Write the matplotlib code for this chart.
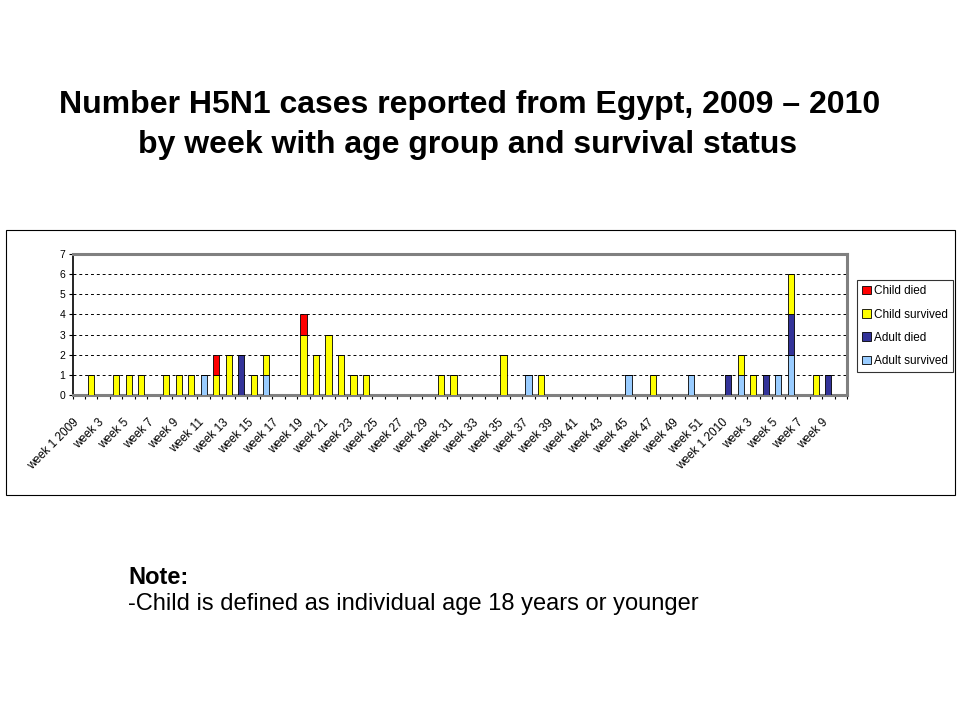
import matplotlib
matplotlib.use("Agg")
import matplotlib.pyplot as plt
import matplotlib.patches as mpatches
import matplotlib.transforms as mtransforms
import numpy as np

plt.rcParams["font.family"] = ["Liberation Sans", "DejaVu Sans"]

# weeks: 52 weeks of 2009, then weeks 1-10 of 2010
weeks_2009 = ["week %d" % w for w in range(1, 53)]
weeks_2010 = ["week %d" % w for w in range(1, 11)]
weeks_2009[0] = "week 1 2009"
weeks_2010[0] = "week 1 2010"
week_labels = weeks_2009 + weeks_2010

# cases per week (2009 rows of 10, then 2010)
adult_survived = [0, 0, 0, 0, 0, 0, 0, 0, 0, 0,
                  1, 0, 0, 0, 0, 1, 0, 0, 0, 0,
                  0, 0, 0, 0, 0, 0, 0, 0, 0, 0,
                  0, 0, 0, 0, 0, 0, 1, 0, 0, 0,
                  0, 0, 0, 0, 1, 0, 0, 0, 0, 1,
                  0, 0,
                  0, 1, 0, 0, 1, 2, 0, 0, 0, 0]
adult_died = [0, 0, 0, 0, 0, 0, 0, 0, 0, 0,
              0, 0, 0, 2, 0, 0, 0, 0, 0, 0,
              0, 0, 0, 0, 0, 0, 0, 0, 0, 0,
              0, 0, 0, 0, 0, 0, 0, 0, 0, 0,
              0, 0, 0, 0, 0, 0, 0, 0, 0, 0,
              0, 0,
              1, 0, 0, 1, 0, 2, 0, 0, 1, 0]
child_survived = [0, 1, 0, 1, 1, 1, 0, 1, 1, 1,
                  0, 1, 2, 0, 1, 1, 0, 0, 3, 2,
                  3, 2, 1, 1, 0, 0, 0, 0, 0, 1,
                  1, 0, 0, 0, 2, 0, 0, 1, 0, 0,
                  0, 0, 0, 0, 0, 0, 1, 0, 0, 0,
                  0, 0,
                  0, 1, 1, 0, 0, 2, 0, 1, 0, 0]
child_died = [0, 0, 0, 0, 0, 0, 0, 0, 0, 0,
              0, 1, 0, 0, 0, 0, 0, 0, 1, 0,
              0, 0, 0, 0, 0, 0, 0, 0, 0, 0,
              0, 0, 0, 0, 0, 0, 0, 0, 0, 0,
              0, 0, 0, 0, 0, 0, 0, 0, 0, 0,
              0, 0,
              0, 0, 0, 0, 0, 0, 0, 0, 0, 0]

series = [("Adult survived", adult_survived, "#99ccff"),
          ("Adult died", adult_died, "#333399"),
          ("Child survived", child_survived, "#ffff00"),
          ("Child died", child_died, "#ff0000")]

fig = plt.figure(figsize=(9.6, 7.2), dpi=100)
W, H = 960.0, 720.0

# titles and note
fig.text(470 / W, 1 - 105 / H, "Number H5N1 cases reported from Egypt, 2009 \u2013 2010",
         ha="center", va="center", fontsize=23, fontweight="bold")
fig.text(468 / W, 1 - 145 / H, "by week with age group and survival status",
         ha="center", va="center", fontsize=23, fontweight="bold")
fig.text(128 / W, 1 - 577 / H, "Note:", ha="left", va="center",
         fontsize=17, fontweight="bold")
fig.text(128 / W, 1 - 604 / H, "-Child is defined as individual age 18 years or younger",
         ha="left", va="center", fontsize=17)

# chart frame
fig.patches.append(mpatches.Rectangle((6 / W, 1 - 495 / H), 949 / W, 265 / H,
                                      transform=fig.transFigure, fill=False,
                                      edgecolor="black", linewidth=0.8))

ax = fig.add_axes([72.5 / W, 1 - 395 / H, 774.5 / W, 141 / H])
x = np.arange(len(week_labels))
bottom = np.zeros(len(week_labels))
handles = {}
for name, vals, col in series:
    vals = np.array(vals)
    b = ax.bar(x, vals, width=0.5, bottom=bottom, color=col,
               edgecolor="black", linewidth=0.6, zorder=3)
    handles[name] = b
    bottom = bottom + vals

ax.set_xlim(-0.5, len(week_labels) - 0.5)
ax.set_ylim(0, 7)
ax.set_yticks(range(8))
ax.tick_params(axis="y", labelsize=7.5, length=3, width=0.8, pad=2)
for yv in range(1, 7):
    ax.axhline(yv, color="black", linestyle=(0, (3, 3)), linewidth=0.7, zorder=1)

ax.set_xticks(x[::2])
ax.set_xticklabels(week_labels[::2], rotation=45, ha="right",
                   rotation_mode="anchor", fontsize=8.5)
ax.tick_params(axis="x", length=0, pad=12)
shift = mtransforms.ScaledTranslation(-6 / 100, -5 / 100, fig.dpi_scale_trans)
for lab in ax.get_xticklabels():
    lab.set_transform(lab.get_transform() + shift)
ax.set_xticks(np.arange(len(week_labels) + 1) - 0.5, minor=True)
ax.tick_params(axis="x", which="minor", length=3, width=0.8, color="black")

for side in ["top", "right", "bottom"]:
    ax.spines[side].set_color("#808080")
    ax.spines[side].set_linewidth(2.2)
ax.spines["left"].set_color("black")
ax.spines["left"].set_linewidth(1.2)

order = ["Child died", "Child survived", "Adult died", "Adult survived"]
leg = fig.legend([handles[n] for n in order], order,
                 loc="upper left", bbox_to_anchor=(857 / W, 1 - 280 / H),
                 fontsize=8.5, frameon=True, fancybox=False, edgecolor="black",
                 handlelength=0.7, handleheight=0.7, handletextpad=0.3,
                 labelspacing=0.95, borderpad=0.45, borderaxespad=0)
leg.get_frame().set_linewidth(0.8)

fig.savefig("out.png", dpi=100, facecolor="white")
